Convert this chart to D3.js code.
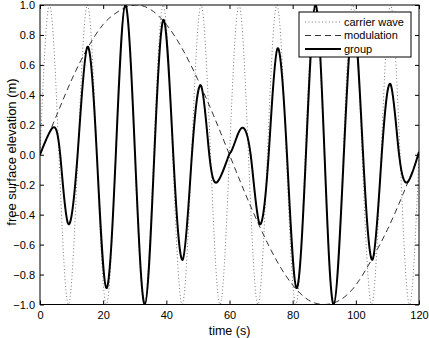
<!DOCTYPE html>
<html>
<head>
<meta charset="utf-8">
<script src="https://cdnjs.cloudflare.com/ajax/libs/d3/7.8.5/d3.min.js"></script>
<style>
  body { margin: 0; background: #fff; }
  text { font-family: "Liberation Sans", Arial, sans-serif; }
</style>
</head>
<body>
<div id="chart"></div>
<script>
// carrier wave: extrema and zero crossings
const carrierTime = [0, 3, 6, 9, 12, 15, 18, 21, 24, 27, 30, 33, 36, 39, 42, 45, 48, 51, 54, 57, 60,
  63, 66, 69, 72, 75, 78, 81, 84, 87, 90, 93, 96, 99, 102, 105, 108, 111, 114, 117, 120];
const carrierValue = [0, 1, 0, -1, 0, 1, 0, -1, 0, 1, 0, -1, 0, 1, 0, -1, 0, 1, 0, -1, 0,
  1, 0, -1, 0, 1, 0, -1, 0, 1, 0, -1, 0, 1, 0, -1, 0, 1, 0, -1, 0];

// modulation (dashed)
const modTime = [0, 5, 10, 15, 20, 25, 30, 35, 40, 45, 50, 55, 60, 65, 70, 75, 80, 85, 90, 95, 100, 105, 110, 115, 120];
const modValue = [0, 0.25, 0.5, 0.71, 0.87, 0.96, 1.0, 0.97, 0.87, 0.71, 0.5, 0.26, 0, -0.26, -0.5, -0.71,
  -0.87, -0.97, -1.0, -0.97, -0.87, -0.7, -0.5, -0.26, 0];

// group (solid)
const groupTime = [0, 4, 6.4, 8.9, 11.9, 15.0, 18.0, 21.0, 24.0, 27.0, 30.1, 33.2, 36.2, 39.2, 42.2,
  45.2, 48.1, 51.0, 53.6, 56.2, 59.5, 60.5, 62, 64.0, 66.7, 69.5, 72.4, 75.2, 78.2, 81.2, 84.2,
  87.2, 90.1, 93.0, 96.2, 99.3, 102.3, 105.3, 108.2, 111.0, 113.7, 116.5, 120];
const groupValue = [0, 0.18, 0, -0.46, 0, 0.72, 0, -0.89, 0, 1.0, 0, -1.0, 0, 0.9, 0,
  -0.7, 0, 0.46, 0, -0.18, -0.02, 0.02, 0.1, 0.18, 0, -0.46, 0, 0.71, 0, -0.89, 0,
  1.0, 0, -1.0, 0, 0.9, 0, -0.7, 0, 0.47, 0, -0.18, 0.02];

const xTicks = [0, 20, 40, 60, 80, 100, 120];
const yTicks = [-1, -0.8, -0.6, -0.4, -0.2, 0, 0.2, 0.4, 0.6, 0.8, 1];
const legendLabels = ['carrier wave', 'modulation', 'group'];

const width = 429, height = 338;
const margin = { top: 5, right: 10, bottom: 33.5, left: 40 };
const innerW = width - margin.left - margin.right;
const innerH = height - margin.top - margin.bottom;

const svg = d3.select('#chart').append('svg')
  .attr('width', width)
  .attr('height', height);

const g = svg.append('g')
  .attr('transform', `translate(${margin.left},${margin.top})`);

const x = d3.scaleLinear().domain([0, 120]).range([0, innerW]);
const y = d3.scaleLinear().domain([-1, 1]).range([innerH, 0]);

svg.append('defs').append('clipPath').attr('id', 'clip')
  .append('rect').attr('width', innerW).attr('height', innerH);

// axes with inward ticks, matlab style
const tk = 4;
const styleAxis = sel => {
  sel.select('.domain').remove();
  sel.selectAll('line').attr('stroke', '#000');
  sel.selectAll('text').attr('font-size', 11).attr('fill', '#000')
    .attr('font-family', '"Liberation Sans", Arial, sans-serif');
};
g.append('g').attr('transform', `translate(0,${innerH})`)
  .call(d3.axisBottom(x).tickValues(xTicks).tickSize(-tk).tickPadding(7))
  .call(styleAxis);
g.append('g')
  .call(d3.axisTop(x).tickValues(xTicks).tickSize(-tk).tickFormat(''))
  .call(styleAxis);
g.append('g')
  .call(d3.axisLeft(y).tickValues(yTicks).tickSize(-tk).tickPadding(5))
  .call(styleAxis);
g.append('g').attr('transform', `translate(${innerW},0)`)
  .call(d3.axisRight(y).tickValues(yTicks).tickSize(-tk).tickFormat(''))
  .call(styleAxis);

const plot = g.append('g').attr('clip-path', 'url(#clip)');

const line = d3.line()
  .x(d => x(d[0]))
  .y(d => y(d[1]))
  .curve(d3.curveNatural);

const series = [
  { time: carrierTime, value: carrierValue, stroke: '#777', width: 1, dash: '1,2.4' },
  { time: modTime, value: modValue, stroke: '#333', width: 1, dash: '6,4' },
  { time: groupTime, value: groupValue, stroke: '#000', width: 2, dash: null }
];

series.forEach(s => {
  plot.append('path')
    .datum(d3.zip(s.time, s.value))
    .attr('fill', 'none')
    .attr('stroke', s.stroke)
    .attr('stroke-width', s.width)
    .attr('stroke-dasharray', s.dash)
    .attr('d', line);
});

// frame
g.append('rect')
  .attr('width', innerW).attr('height', innerH)
  .attr('fill', 'none').attr('stroke', '#000').attr('stroke-width', 1);

// legend
const legend = svg.append('g').attr('transform', 'translate(299,12)');
legend.append('rect')
  .attr('width', 112).attr('height', 45)
  .attr('fill', '#fff').attr('stroke', '#000').attr('stroke-width', 1);
legendLabels.forEach((label, i) => {
  const s = series[i];
  const ly = 10 + i * 13.5;
  legend.append('line')
    .attr('x1', 6).attr('x2', 42).attr('y1', ly).attr('y2', ly)
    .attr('stroke', s.stroke).attr('stroke-width', s.width)
    .attr('stroke-dasharray', s.dash);
  legend.append('text')
    .attr('x', 45).attr('y', ly).attr('dy', '0.35em')
    .attr('font-size', 11).text(label);
});

// axis labels
svg.append('text')
  .attr('x', margin.left + innerW / 2).attr('y', 335)
  .attr('text-anchor', 'middle').attr('font-size', 12.5)
  .text('time (s)');
svg.append('text')
  .attr('transform', `translate(16,152) rotate(-90)`)
  .attr('text-anchor', 'middle').attr('font-size', 13)
  .text('free surface elevation (m)');
</script>
</body>
</html>
